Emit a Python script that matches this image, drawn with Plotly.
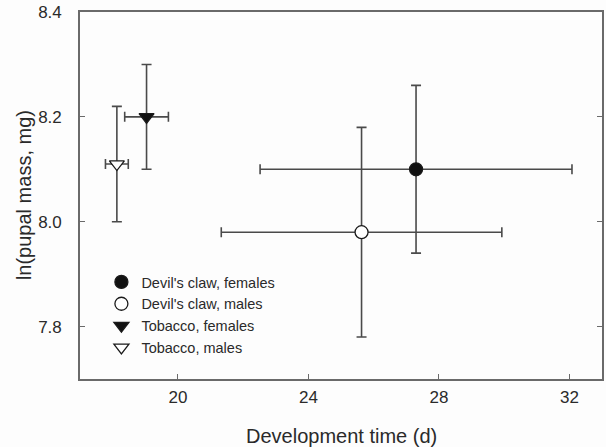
import plotly.graph_objects as go

# Data
names = ["Devil's claw, females", "Devil's claw, males", "Tobacco, females", "Tobacco, males"]
dev_time = [27.3, 25.63, 19.04, 18.13]
dev_time_err = [4.78, 4.3, 0.67, 0.35]
ln_mass = [8.10, 7.98, 8.20, 8.11]
ln_mass_err = [0.16, 0.20, 0.10, 0.11]
symbols = ["circle", "circle", "triangle-down", "triangle-down"]
fills = ["#111111", "#ffffff", "#111111", "#ffffff"]

x_ticks = [20, 24, 28, 32]
y_ticks = [7.8, 8.0, 8.2, 8.4]
x_title = "Development time (d)"
y_title = "ln(pupal mass, mg)"

FONT = "Arial, Liberation Sans, sans-serif"
TXT = "#2a2a2a"
ERR = "#4a4a4a"
AX = "#6a6a6a"

fig = go.Figure()
for i, n in enumerate(names):
    fig.add_trace(go.Scatter(
        x=[dev_time[i]], y=[ln_mass[i]], mode="markers", name=n,
        marker=dict(symbol=symbols[i], size=13, color=fills[i],
                    line=dict(color="#1a1a1a", width=1.3)),
        error_x=dict(type="data", array=[dev_time_err[i]], color=ERR, thickness=1.6, width=5),
        error_y=dict(type="data", array=[ln_mass_err[i]], color=ERR, thickness=1.6, width=5),
    ))

fig.update_layout(
    width=606, height=447,
    margin=dict(l=80, r=4, t=12, b=68, autoexpand=False),
    paper_bgcolor="#fdfdfd", plot_bgcolor="#fdfdfd",
    font=dict(family=FONT, color=TXT),
    showlegend=True,
    legend=dict(x=0.041, y=0.308, xanchor="left", yanchor="top",
                bgcolor="rgba(0,0,0,0)", font=dict(size=14.5, color=TXT),
                tracegroupgap=0, itemsizing="trace"),
    annotations=[
        dict(text=x_title, xref="paper", yref="paper", x=0.5, y=-0.155,
             xanchor="center", yanchor="middle", showarrow=False,
             font=dict(size=20, color=TXT)),
        dict(text=y_title, xref="paper", yref="paper", x=-0.108, y=0.5,
             xanchor="center", yanchor="middle", showarrow=False, textangle=-90,
             font=dict(size=20, color=TXT)),
    ],
)
fig.update_xaxes(
    range=[17, 33], tickvals=x_ticks, ticktext=[str(v) for v in x_ticks],
    ticks="inside", ticklen=5, tickcolor=AX, tickwidth=1.2,
    showline=True, linecolor=AX, linewidth=1.6, mirror=True,
    showgrid=False, zeroline=False, automargin=False,
    tickfont=dict(size=17, color=TXT), ticklabelstandoff=2,
)
fig.update_yaxes(
    range=[7.7, 8.4], tickvals=y_ticks, ticktext=["%.1f" % v for v in y_ticks],
    ticks="inside", ticklen=5, tickcolor=AX, tickwidth=1.2,
    showline=True, linecolor=AX, linewidth=1.6, mirror="ticks",
    showgrid=False, zeroline=False, automargin=False,
    tickfont=dict(size=17, color=TXT), ticklabelstandoff=13,
)

fig.write_html("out.html",
               config={"displayModeBar": False},
               post_script="document.body.style.margin='0';document.body.style.overflow='hidden';")
